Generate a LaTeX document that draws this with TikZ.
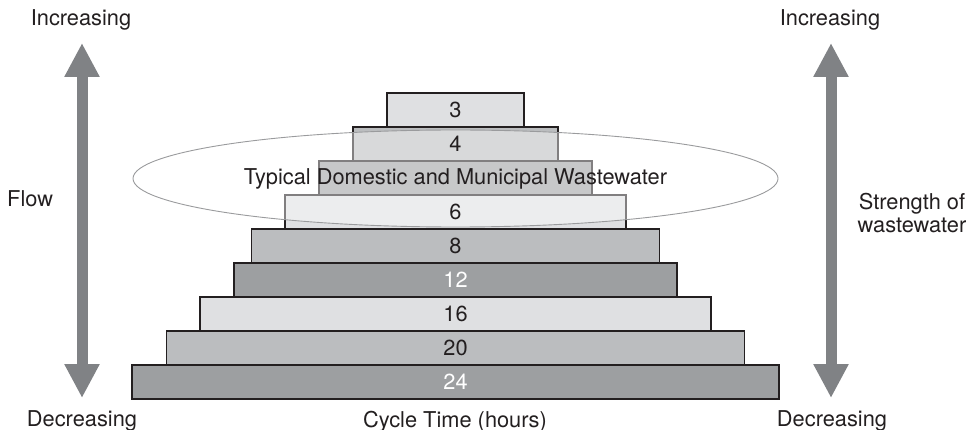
\documentclass[tikz,border=0pt]{standalone}
\usepackage{fontspec}
\setmainfont{TeX Gyre Heros}
\usetikzlibrary{arrows.meta,shapes.geometric}
\definecolor{txt}{HTML}{231F20}
\definecolor{lightbar}{HTML}{DFE0E2}
\definecolor{midbar}{HTML}{BBBDBF}
\definecolor{darkbar}{HTML}{9D9FA1}
\definecolor{arrowgray}{HTML}{808285}
\definecolor{ringgray}{HTML}{9A9B9D}
\begin{document}
\begin{tikzpicture}[x=1pt,y=-1pt,
  lbl/.style={font=\fontsize{21.8}{23}\selectfont, text=txt, inner sep=0pt},
  bar/.style={draw=txt, line width=1.3pt, minimum height=34pt, inner sep=0pt},
  num/.style={font=\fontsize{21.8}{23}\selectfont, text=txt, inner sep=0pt},
  whitenum/.style={num, text=white},
  arr/.style={draw=arrowgray, line width=11pt,
    {Triangle[length=34pt,width=33pt]}-{Triangle[length=34pt,width=33pt]}},
  ring/.style={ellipse, draw=ringgray, line width=0.9pt, fill=white,
    fill opacity=0.43, text opacity=1, text=txt, inner sep=0pt,
    minimum width=645pt, minimum height=97pt,
    font=\fontsize{21.8}{23}\selectfont}]
\useasboundingbox (0,0) rectangle (969,430);
% bars
\node[bar, fill=lightbar, minimum width=137pt] (b3)  at (455.5,110) {};
\node[bar, fill=midbar,   minimum width=205pt] (b4)  at (455.5,144) {};
\node[bar, fill=darkbar,  minimum width=273pt] (b5)  at (455.5,178) {};
\node[bar, fill=lightbar, minimum width=341pt] (b6)  at (455.5,212) {};
\node[bar, fill=midbar,   minimum width=408pt] (b8)  at (455.5,246) {};
\node[bar, fill=darkbar,  minimum width=443pt] (b12) at (455.5,280) {};
\node[bar, fill=lightbar, minimum width=511pt] (b16) at (455.5,314) {};
\node[bar, fill=midbar,   minimum width=578pt] (b20) at (455.5,348) {};
\node[bar, fill=darkbar,  minimum width=647pt] (b24) at (455.5,382) {};
% ellipse
\node[ring] (typ) at (455.5,178.5) {Typical Domestic and Municipal Wastewater};
% bar numbers
\node[num] (n3)  at (b3.center)  {3};
\node[num] (n4)  at (b4.center)  {4};
\node[num] (n6)  at (b6.center)  {6};
\node[num] (n8)  at (b8.center)  {8};
\node[whitenum] (n12) at (b12.center) {12};
\node[num] (n16) at (b16.center) {16};
\node[num] (n20) at (b20.center) {20};
\node[whitenum] (n24) at (b24.center) {24};
% arrows
\coordinate (lt) at (82,43);
\coordinate (lb) at (82,398);
\coordinate (rt) at (831,43);
\coordinate (rb) at (831,398);
\draw[arr] (lb) -- (lt);
\draw[arr] (rb) -- (rt);
% labels
\node[lbl, anchor=base] (incL) at (81,26) {Increasing};
\node[lbl, anchor=base] (decL) at (82,426) {Decreasing};
\node[lbl, anchor=base west] (flow) at (7,207) {Flow};
\node[lbl, anchor=base] (incR) at (830,26) {Increasing};
\node[lbl, anchor=base] (decR) at (832,426) {Decreasing};
\node[lbl, align=center] (str) at (912,213) {Strength of\\wastewater};
\node[lbl, anchor=base] (cyc) at (455,427) {Cycle Time (hours)};
\end{tikzpicture}
\end{document}
